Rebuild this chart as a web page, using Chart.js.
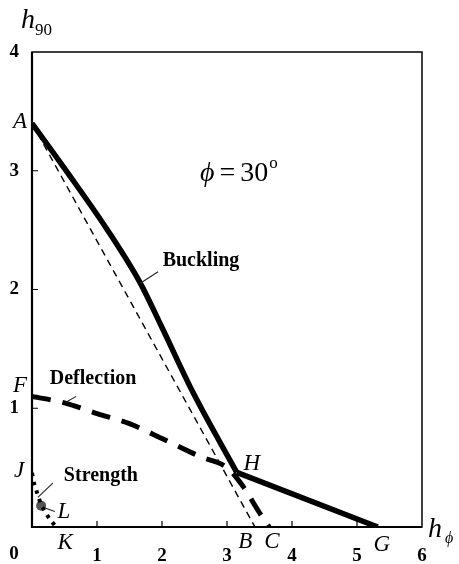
<!DOCTYPE html>
<html>
<head>
<meta charset="utf-8">
<script src="https://cdn.jsdelivr.net/npm/chart.js@4/dist/chart.umd.min.js"></script>
<style>
  html, body { margin: 0; padding: 0; background: #fff; }
  #wrap { width: 459px; height: 564px; }
</style>
</head>
<body>
<div id="wrap"><canvas id="chart" width="459" height="564"></canvas></div>
<script>
// 曲线数据 (h_phi, h_90)
const buckX = [0, 0.5, 1.15, 1.66, 2.0, 2.48, 3.15];
const buckY = [3.4, 3.02, 2.51, 2.06, 1.68, 1.13, 0.46];

const hgX = [3.15, 5.32];
const hgY = [0.46, 0];

const chordX = [0, 3.43];
const chordY = [3.4, 0];

const deflX = [0, 0.5, 1.0, 1.5, 2.0, 2.6, 3.0, 3.25, 3.5, 3.65];
const deflY = [1.10, 1.045, 0.955, 0.87, 0.745, 0.59, 0.50, 0.34, 0.12, 0];

const strX = [0, 0.03, 0.08, 0.14, 0.26, 0.37];
const strY = [0.455, 0.37, 0.286, 0.185, 0.076, 0.0];

const pointL = [0.14, 0.18];

const xTicks = [0, 1, 2, 3, 4, 5, 6];
const yTicks = [0, 1, 2, 3, 4];

function pts(xs, ys) {
    return xs.map((x, i) => ({ x: x, y: ys[i] }));
}

const serif = "'Liberation Serif', 'Times New Roman', serif";

// 引线 (数据坐标)
const leaders = [
    [[1.94, 2.15], [1.66, 2.05]],
    [[0.68, 1.10], [0.52, 1.05]],
    [[0.32, 0.37], [0.09, 0.25]],
    [[0.20, 0.16], [0.35, 0.13]]
];

const pointNames = [
    ['A', -0.185, 3.41], ['F', -0.185, 1.19], ['J', -0.2, 0.47],
    ['K', 0.51, -0.135], ['L', 0.49, 0.126], ['B', 3.28, -0.126],
    ['C', 3.69, -0.126], ['G', 5.38, -0.15], ['H', 3.38, 0.53]
];

const curveNames = [
    ['Buckling', 2.6, 2.24], ['Deflection', 0.94, 1.246], ['Strength', 1.06, 0.43]
];

const decor = {
    id: 'decor',
    afterDraw(chart) {
        const ctx = chart.ctx;
        const xs = chart.scales.x, ys = chart.scales.y;
        const a = chart.chartArea;
        const px = v => xs.getPixelForValue(v);
        const py = v => ys.getPixelForValue(v);
        ctx.save();
        ctx.strokeStyle = '#000';
        ctx.fillStyle = '#000';

        // 边框
        ctx.lineWidth = 1.5;
        ctx.strokeRect(a.left, a.top, a.right - a.left, a.bottom - a.top);
        ctx.lineWidth = 2.2;
        ctx.beginPath();
        ctx.moveTo(a.left, a.top);
        ctx.lineTo(a.left, a.bottom);
        ctx.lineTo(a.right, a.bottom);
        ctx.stroke();

        // 内刻度
        ctx.lineWidth = 1.2;
        ctx.beginPath();
        xTicks.slice(1, -1).forEach(v => {
            ctx.moveTo(px(v), a.bottom);
            ctx.lineTo(px(v), a.bottom - 6);
        });
        yTicks.slice(1, -1).forEach(v => {
            ctx.moveTo(a.left, py(v));
            ctx.lineTo(a.left + 6, py(v));
        });
        ctx.stroke();

        // 引线
        ctx.lineWidth = 1.1;
        ctx.strokeStyle = '#222';
        leaders.forEach(l => {
            ctx.beginPath();
            ctx.moveTo(px(l[0][0]), py(l[0][1]));
            ctx.lineTo(px(l[1][0]), py(l[1][1]));
            ctx.stroke();
        });

        // 原点 0
        ctx.font = 'bold 19px ' + serif;
        ctx.textAlign = 'center';
        ctx.textBaseline = 'middle';
        ctx.fillText('0', 14, 554);

        // 点名
        ctx.font = 'italic 23px ' + serif;
        pointNames.forEach(p => ctx.fillText(p[0], px(p[1]), py(p[2])));

        // 曲线名
        ctx.font = 'bold 20px ' + serif;
        curveNames.forEach(p => ctx.fillText(p[0], px(p[1]), py(p[2])));

        // 坐标轴标题
        ctx.textAlign = 'left';
        ctx.textBaseline = 'alphabetic';
        ctx.font = 'italic 28px ' + serif;
        ctx.fillText('h', 21, 28);
        ctx.font = '17px ' + serif;
        ctx.fillText('90', 35, 35);
        ctx.font = 'italic 28px ' + serif;
        ctx.fillText('h', 428, 537);
        ctx.font = 'italic 16px ' + serif;
        ctx.fillText('ϕ', 445, 543);

        // phi = 30°
        let x = px(2.585), y = py(2.99) + 9;
        ctx.font = 'italic 28px ' + serif;
        ctx.fillText('ϕ', x, y);
        x += ctx.measureText('ϕ').width + 5;
        ctx.font = '28px ' + serif;
        ctx.fillText('=', x, y);
        x += ctx.measureText('=').width + 5;
        ctx.fillText('30', x, y);
        x += ctx.measureText('30').width + 1;
        ctx.font = '17px ' + serif;
        ctx.fillText('o', x, y - 13);

        ctx.restore();
    }
};

new Chart(document.getElementById('chart'), {
    type: 'line',
    data: {
        datasets: [
            {
                label: 'Buckling',
                data: pts(buckX, buckY),
                borderColor: '#000',
                borderWidth: 5.5,
                pointRadius: 0,
                cubicInterpolationMode: 'monotone'
            },
            {
                label: 'Buckling HG',
                data: pts(hgX, hgY),
                borderColor: '#000',
                borderWidth: 5.5,
                pointRadius: 0
            },
            {
                label: 'Chord AB',
                data: pts(chordX, chordY),
                borderColor: '#000',
                borderWidth: 1.4,
                borderDash: [7, 5],
                pointRadius: 0
            },
            {
                label: 'Deflection',
                data: pts(deflX, deflY),
                borderColor: '#000',
                borderWidth: 5,
                borderDash: [19, 12],
                pointRadius: 0,
                cubicInterpolationMode: 'monotone'
            },
            {
                label: 'Strength',
                data: pts(strX, strY),
                borderColor: '#000',
                borderWidth: 4,
                borderDash: [3.5, 5.5],
                pointRadius: 0
            },
            {
                label: 'L',
                data: [{ x: pointL[0], y: pointL[1] }],
                showLine: false,
                pointRadius: 5,
                pointBackgroundColor: '#555',
                pointBorderColor: '#555',
                pointBorderWidth: 0
            }
        ]
    },
    options: {
        responsive: false,
        animation: false,
        layout: { padding: { top: 52, right: 37, left: 0, bottom: 0 } },
        plugins: {
            legend: { display: false },
            tooltip: { enabled: false }
        },
        scales: {
            x: {
                type: 'linear',
                min: 0,
                max: 6,
                afterFit: s => { s.height = 37; },
                afterBuildTicks: s => { s.ticks = xTicks.map(v => ({ value: v })); },
                grid: { display: false, drawTicks: false },
                border: { display: false },
                ticks: {
                    padding: 18,
                    color: '#000',
                    maxRotation: 0,
                    font: { family: serif, size: 19, weight: 'bold' },
                    callback: v => (v === 0 ? '' : v)
                }
            },
            y: {
                type: 'linear',
                min: 0,
                max: 4,
                afterFit: s => { s.width = 32; },
                afterBuildTicks: s => { s.ticks = yTicks.map(v => ({ value: v })); },
                grid: { display: false, drawTicks: false },
                border: { display: false },
                ticks: {
                    padding: 13,
                    color: '#000',
                    font: { family: serif, size: 19, weight: 'bold' },
                    callback: v => (v === 0 ? '' : v)
                }
            }
        }
    },
    plugins: [decor]
});
</script>
</body>
</html>
